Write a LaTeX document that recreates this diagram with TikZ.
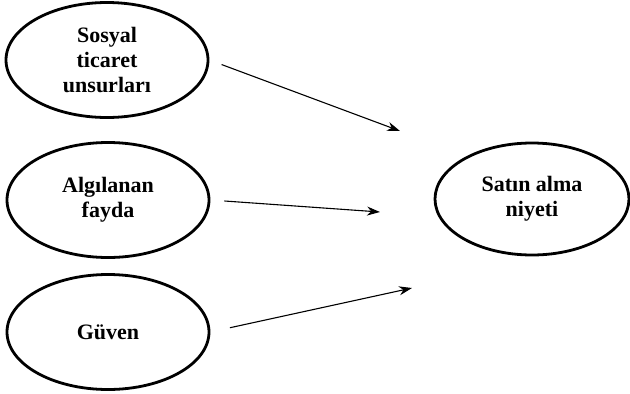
\documentclass[tikz,border=0pt]{standalone}
\usepackage{fontspec}
\setmainfont{Liberation Serif}
\usepackage{tikz}
\usetikzlibrary{positioning,shapes.geometric,arrows.meta}

\begin{document}
\begin{tikzpicture}[x=1pt,y=-1pt,
    factor/.style={ellipse, draw=black, line width=2.8pt, inner sep=0pt,
      minimum width=202pt, minimum height=115pt, align=center,
      font=\fontsize{22}{25}\selectfont\bfseries},
    link/.style={-{Stealth[length=13pt,width=9pt]}, line width=1.1pt}]
      \useasboundingbox (0,0) rectangle (630,394);

      % Independent factors
      \node[factor] (social) at (107,60) {Sosyal\\ticaret\\unsurları};
      \node[factor] (benefit) at (108,200) {Algılanan\\fayda};
      \node[factor] (trust) at (108,332) {Güven};

      % Outcome
      \node[factor, minimum width=194pt, minimum height=112pt] (intent) at (532,199) {Satın alma\\niyeti};

      % Arrow tips
      \coordinate (tipA) at (400,131);
      \coordinate (tipB) at (380,212);
      \coordinate (tipC) at (412,288);

      \draw[link, shorten <=13pt] (social.east) -- (tipA);
      \draw[link, shorten <=14pt] (benefit.east) -- (tipB);
      \draw[link, shorten <=20pt] (trust.east) -- (tipC);
    \end{tikzpicture}
\end{document}
